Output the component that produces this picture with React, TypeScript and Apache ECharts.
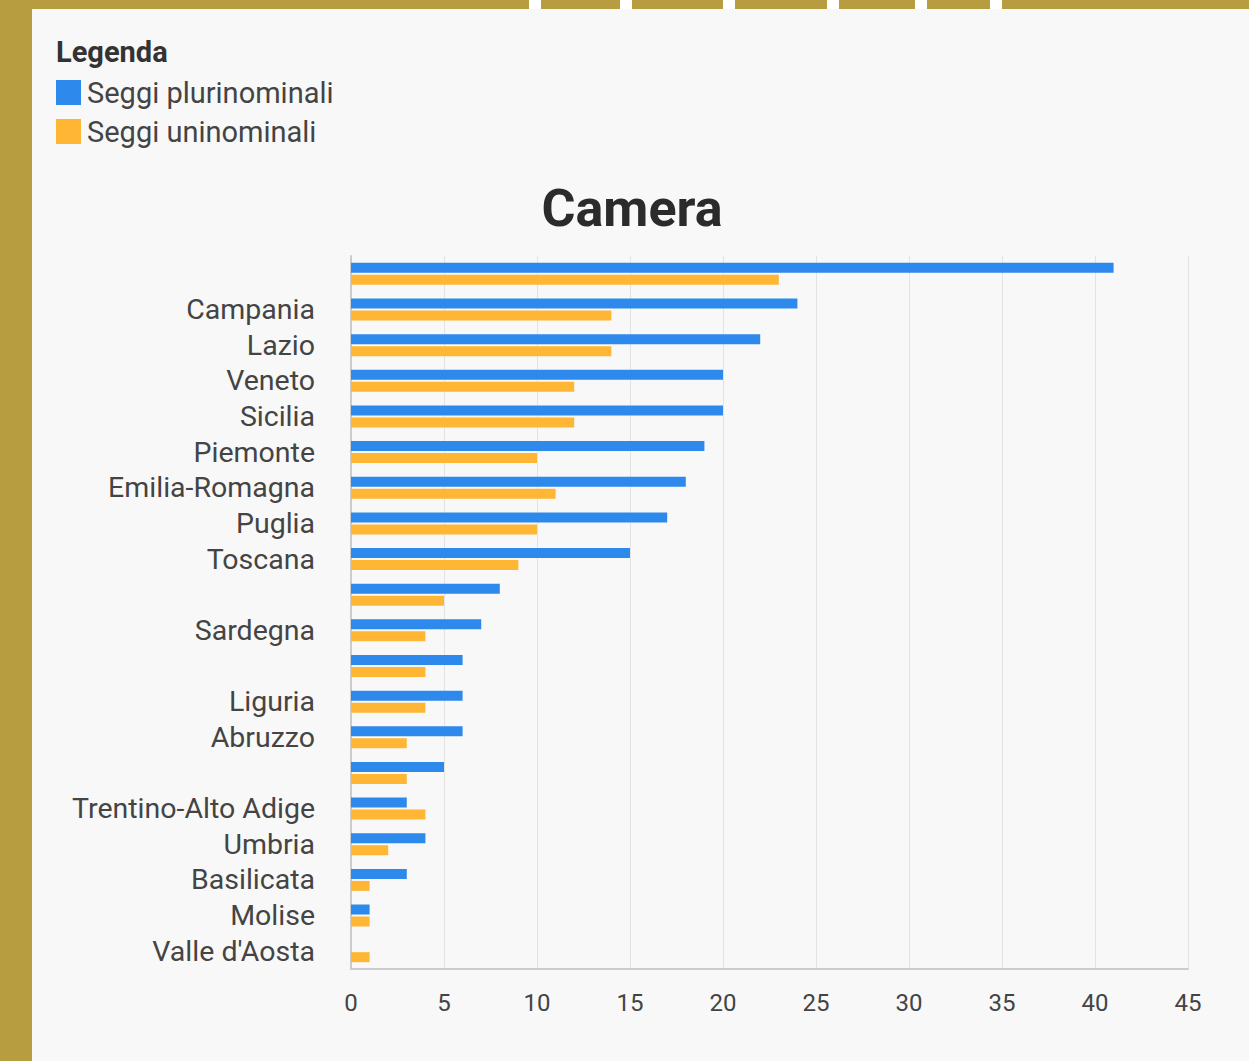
import React, { useEffect, useRef } from "react";
import * as echarts from "echarts";

const categories = [
  "Lombardia",
  "Campania",
  "Lazio",
  "Veneto",
  "Sicilia",
  "Piemonte",
  "Emilia-Romagna",
  "Puglia",
  "Toscana",
  "Calabria",
  "Sardegna",
  "Marche",
  "Liguria",
  "Abruzzo",
  "Friuli-Venezia Giulia",
  "Trentino-Alto Adige",
  "Umbria",
  "Basilicata",
  "Molise",
  "Valle d'Aosta",
];
const hiddenLabels = ["Lombardia", "Calabria", "Marche", "Friuli-Venezia Giulia"];
const plurinominali = [41, 24, 22, 20, 20, 19, 18, 17, 15, 8, 7, 6, 6, 6, 5, 3, 4, 3, 1, 0];
const uninominali = [23, 14, 14, 12, 12, 10, 11, 10, 9, 5, 4, 4, 4, 3, 3, 4, 2, 1, 1, 1];
const seriesNames = ["Seggi plurinominali", "Seggi uninominali"];
const xTicks = { min: 0, max: 45, interval: 5 };

const W = 1249;
const H = 1061;
const GOLD = "#b89c40";
const gapXs = [529, 620, 723, 827, 915, 990];

export default function App() {
  const ref = useRef<HTMLDivElement>(null);
  useEffect(() => {
    document.body.style.margin = "0";
    const chart = echarts.init(ref.current!, null, { renderer: "svg" });
    const font = "Roboto, 'Noto Sans', sans-serif";
    const graphics: any[] = [
      { type: "rect", shape: { x: 0, y: 0, width: 32, height: H }, style: { fill: GOLD }, silent: true },
      { type: "rect", shape: { x: 0, y: 0, width: W, height: 9 }, style: { fill: GOLD }, silent: true },
      ...gapXs.map((x) => ({
        type: "rect",
        shape: { x, y: 0, width: 12, height: 9 },
        style: { fill: "#ffffff" },
        silent: true,
      })),
      {
        type: "text",
        x: 56,
        y: 52,
        style: {
          text: "Legenda",
          font: `bold 29px ${font}`,
          fill: "#333",
          textVerticalAlign: "middle",
        },
      },
      {
        type: "text",
        x: 632,
        y: 208,
        style: {
          text: "Camera",
          font: `bold 52px ${font}`,
          fill: "#2b2b2b",
          textAlign: "center",
          textVerticalAlign: "middle",
        },
      },
    ];
    chart.setOption({
      animation: false,
      backgroundColor: "#f8f8f8",
      textStyle: { fontFamily: font },
      graphic: graphics,
      legend: {
        orient: "vertical",
        left: 51,
        top: 73,
        itemWidth: 25,
        itemHeight: 25,
        itemGap: 10,
        icon: "rect",
        data: seriesNames,
        textStyle: { fontSize: 29, color: "#444", fontFamily: font, padding: [0, 0, 0, 1] },
      },
      grid: { left: 351, right: 61, top: 256, bottom: 92, containLabel: false },
      xAxis: {
        type: "value",
        min: xTicks.min,
        max: xTicks.max,
        interval: xTicks.interval,
        axisLine: { show: true, lineStyle: { color: "#cccccc", width: 2 } },
        axisTick: { show: false },
        splitLine: { show: true, lineStyle: { color: "#e3e3e3", width: 1 } },
        axisLabel: { fontSize: 24, color: "#444", margin: 22, fontFamily: font },
      },
      yAxis: {
        type: "category",
        inverse: true,
        data: categories,
        axisLine: { show: true, lineStyle: { color: "#cccccc", width: 2 } },
        axisTick: { show: false },
        splitLine: { show: false },
        axisLabel: {
          interval: 0,
          fontSize: 28.5,
          color: "#444",
          margin: 36,
          fontFamily: font,
          formatter: (v: string) => (hiddenLabels.includes(v) ? "" : v),
        },
      },
      series: [
        {
          name: seriesNames[0],
          type: "bar",
          data: plurinominali,
          barWidth: 10,
          barGap: "20%",
          itemStyle: { color: "#2e89ec" },
        },
        {
          name: seriesNames[1],
          type: "bar",
          data: uninominali,
          barWidth: 10,
          itemStyle: { color: "#feb634" },
        },
      ],
    });
    return () => chart.dispose();
  }, []);
  return (
    <div
      ref={ref}
      style={{ position: "fixed", left: 0, top: 0, width: W, height: H }}
    />
  );
}
